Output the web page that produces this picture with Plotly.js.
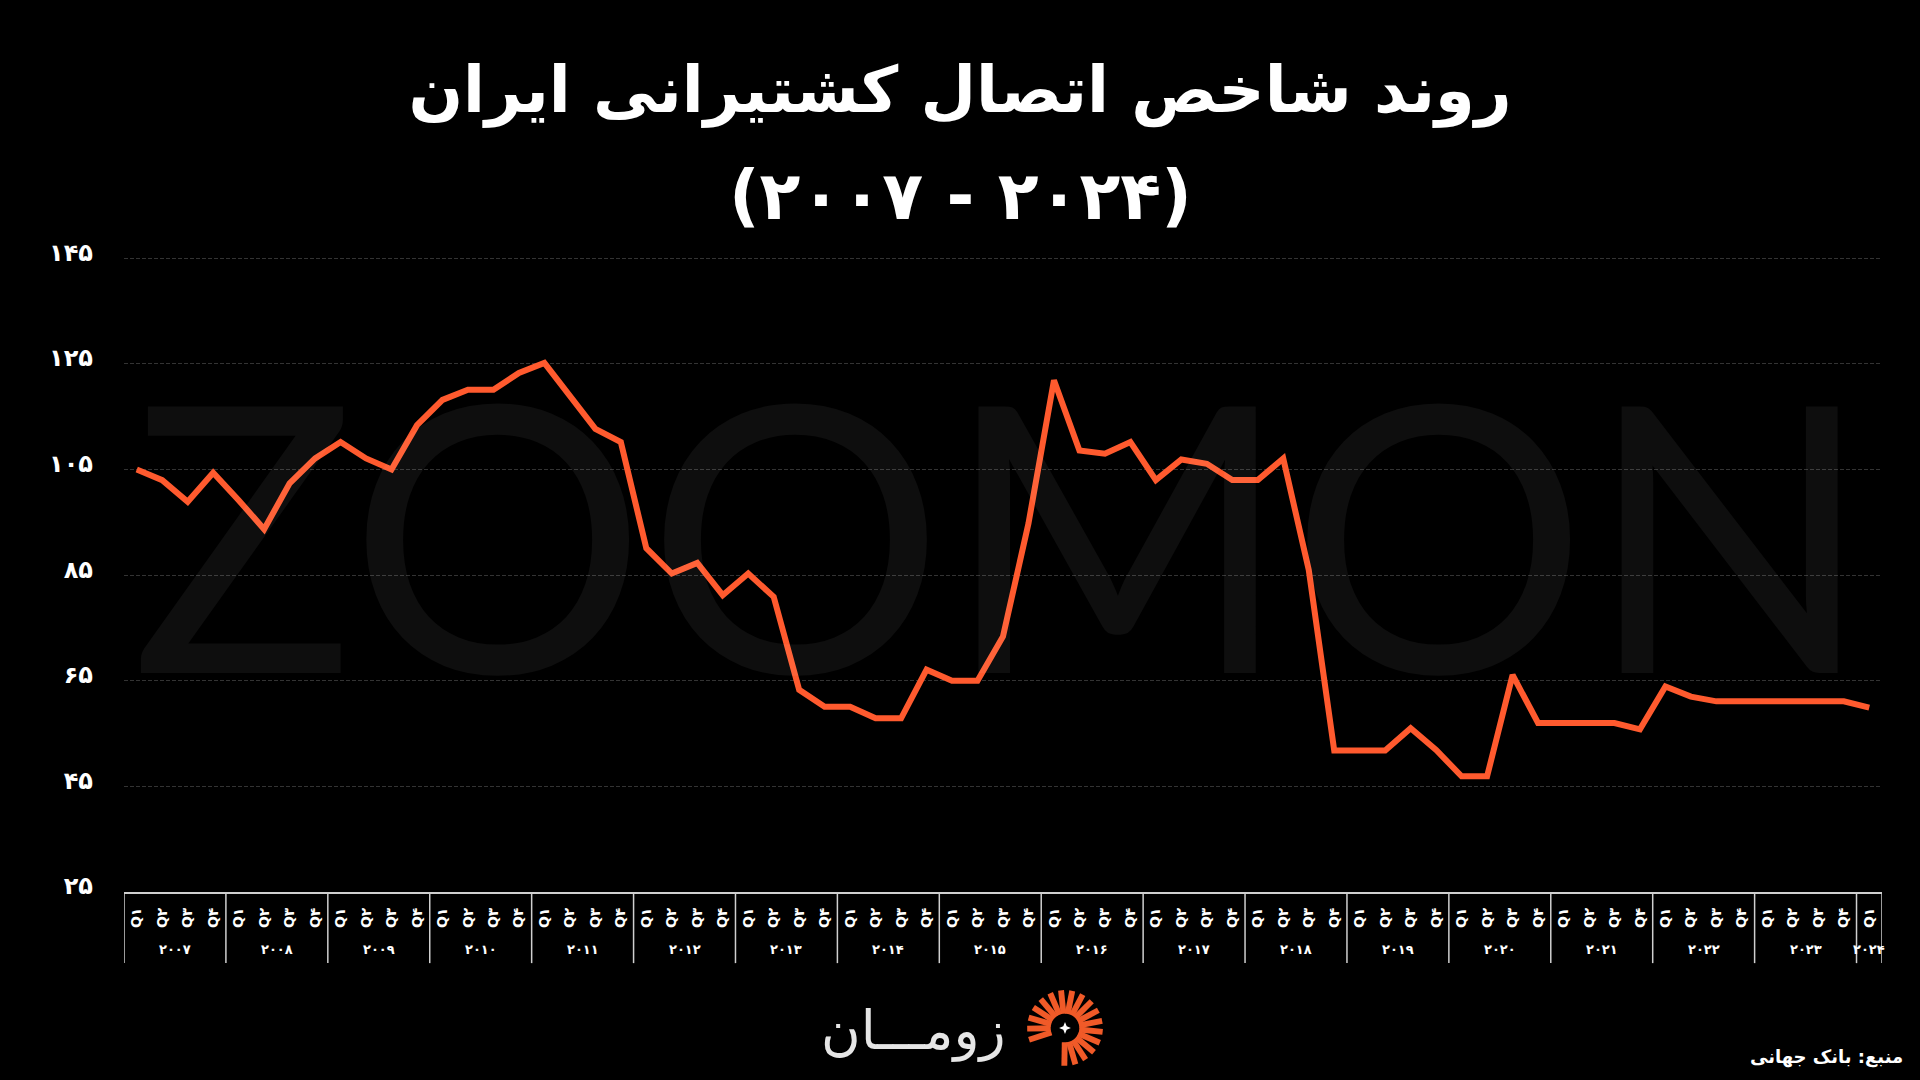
<!DOCTYPE html>
<html>
<head>
<meta charset="utf-8">
<script src="https://cdn.plot.ly/plotly-3.0.1.min.js"></script>
<style>html,body{margin:0;padding:0;background:#000;}#chart{width:1920px;height:1080px;}</style>
</head>
<body>
<div id="chart"></div>
<script>
// ---- data ----
const years = [2007,2008,2009,2010,2011,2012,2013,2014,2015,2016,2017,2018,2019,2020,2021,2022,2023,2024];
const yearLabels = ['۲۰۰۷','۲۰۰۸','۲۰۰۹','۲۰۱۰','۲۰۱۱','۲۰۱۲','۲۰۱۳','۲۰۱۴','۲۰۱۵','۲۰۱۶','۲۰۱۷','۲۰۱۸','۲۰۱۹','۲۰۲۰','۲۰۲۱','۲۰۲۲','۲۰۲۳','۲۰۲۴'];
const quarterKeys = ['Q1','Q2','Q3','Q4'];
const quarterLabels = ['Q۱','Q۲','Q۳','Q۴'];
const quartersInLastYear = 1;
const lsci = [
  105.0,103.0,98.9,104.4,
  99.2,93.7,102.4,107.1,
  110.2,107.1,105.0,113.4,
  118.2,120.1,120.1,123.3,
  125.2,119.0,112.7,110.2,
  90.1,85.3,87.3,81.2,
  85.3,80.9,63.3,60.1,
  60.1,57.9,57.9,67.1,
  65.0,65.0,73.4,94.8,
  121.9,108.6,108.0,110.2,
  103.0,106.9,106.1,103.0,
  103.0,107.1,86.0,51.8,
  51.8,51.8,56.0,51.9,
  46.9,46.9,66.1,57.0,
  57.0,57.0,57.0,55.8,
  63.9,62.0,61.1,61.1,
  61.1,61.1,61.1,61.1,
  59.9
];
const yTicks = [25,45,65,85,105,125,145];
const yTickLabels = ['۲۵','۴۵','۶۵','۸۵','۱۰۵','۱۲۵','۱۴۵'];
const titleLine1 = 'روند شاخص اتصال کشتیرانی ایران';
const titleLine2 = '(۲۰۰۷ - ۲۰۲۴)';
const sourceText = 'منبع: بانک جهانی';
const brandText = 'زومـــان';

// ---- build categories ----
const cats = [], catText = [];
const yearStart = [], yearCount = [];
years.forEach((y, yi) => {
  const n = (yi === years.length - 1) ? quartersInLastYear : 4;
  yearStart.push(cats.length); yearCount.push(n);
  for (let q = 0; q < n; q++) { cats.push(y + '-' + quarterKeys[q]); catText.push(quarterLabels[q]); }
});

const FA = 'DejaVu Sans, Noto Sans, sans-serif';
const lineCol = '#cfcfcf';

const shapes = [];
const annotations = [];
years.forEach((y, yi) => {
  shapes.push({type:'line', xref:'x', yref:'paper', x0:yearStart[yi]-0.5, x1:yearStart[yi]-0.5, y0:0, y1:-0.112, line:{color:lineCol, width:1.5}});
  annotations.push({xref:'x', yref:'paper', x:yearStart[yi] + (yearCount[yi]-1)/2, y:-0.0913, text:yearLabels[yi], showarrow:false, font:{family:FA, size:13, color:'#fff', weight:'bold'}, xanchor:'center', yanchor:'middle'});
});
shapes.push({type:'line', xref:'x', yref:'paper', x0:cats.length-0.5, x1:cats.length-0.5, y0:0, y1:-0.112, line:{color:lineCol, width:1.5}});

// watermark
annotations.push({xref:'paper', yref:'paper', x:0.499, y:0.572, text:'ZOOMON', showarrow:false, font:{family:'Lato, sans-serif', size:372, color:'rgba(255,255,255,0.055)', weight:400}, xanchor:'center', yanchor:'middle'});
// second title line (own text element so it lays out left-to-right)
annotations.push({xref:'paper', yref:'paper', x:(960-124)/1758, y:(892-196)/635, text:titleLine2, showarrow:false, font:{family:FA, size:67, color:'#fff', weight:'bold'}, xanchor:'center', yanchor:'middle'});
// source
annotations.push({xref:'paper', yref:'paper', x:1.0131, y:-0.26, text:sourceText, showarrow:false, font:{family:FA, size:18, color:'#fff', weight:'bold'}, xanchor:'right', yanchor:'middle'});
// brand
annotations.push({xref:'paper', yref:'paper', x:(913-124)/1758, y:-0.218, text:brandText, showarrow:false, font:{family:FA, size:54, color:'#e6e6e6'}, xanchor:'center', yanchor:'middle'});

// brand icon (decorative)
let rays = '';
for (let a = -198; a <= 100; a += 17) {
  const r = a * Math.PI / 180;
  const x0 = 50 + 17*Math.cos(r), y0 = 50 + 17*Math.sin(r);
  const x1 = 50 + 45*Math.cos(r), y1 = 50 + 45*Math.sin(r);
  rays += `<line x1="${x0.toFixed(1)}" y1="${y0.toFixed(1)}" x2="${x1.toFixed(1)}" y2="${y1.toFixed(1)}" stroke="#f05a28" stroke-width="7"/>`;
}
const star = '<path d="M50 43 L52 48 L57 50 L52 52 L50 57 L48 52 L43 50 L48 48 Z" fill="#fff"/>';
const svg = `<svg xmlns="http://www.w3.org/2000/svg" width="100" height="100" viewBox="0 0 100 100">${rays}${star}</svg>`;
const images = [{source:'data:image/svg+xml;charset=utf-8,' + encodeURIComponent(svg), xref:'paper', yref:'paper', x:(1065-124)/1758, y:(892-1028)/635, sizex:84/1758, sizey:84/635, xanchor:'center', yanchor:'middle', sizing:'contain', layer:'above'}];

const trace = {
  type:'scatter', mode:'lines', x:cats, y:lsci,
  line:{color:'#ff5a2e', width:6, shape:'linear'},
  hoverinfo:'skip'
};

const layout = {
  width:1920, height:1080,
  paper_bgcolor:'#000', plot_bgcolor:'#000',
  margin:{l:124, r:38, t:257, b:188},
  showlegend:false,
  title:{text: titleLine1, font:{family:FA, size:64, color:'#fff', weight:'bold'}, x:0.5, xanchor:'center', y:1-90/1080, yanchor:'middle', yref:'container'},
  xaxis:{type:'category', categoryorder:'array', categoryarray:cats, range:[-0.5, cats.length-0.5],
    tickvals:cats, ticktext:catText, tickangle:-90, ticks:'', ticklabelstandoff:8,
    tickfont:{family:FA, size:14, color:'#fff', weight:'bold'},
    showgrid:false, zeroline:false, showline:true, linecolor:lineCol, linewidth:2, fixedrange:true},
  yaxis:{range:[25,145.25], tickvals:yTicks, ticktext:yTickLabels, ticks:'',
    tickfont:{family:FA, size:24, color:'#fff', weight:'bold'}, ticklabelstandoff:30, ticklabelshift:-6,
    showgrid:true, gridcolor:'#333', gridwidth:1, griddash:'4px,2px', zeroline:false, showline:false, fixedrange:true},
  shapes:shapes, annotations:annotations, images:images
};

Plotly.newPlot('chart', [trace], layout, {displayModeBar:false, staticPlot:true});
</script>
</body>
</html>
